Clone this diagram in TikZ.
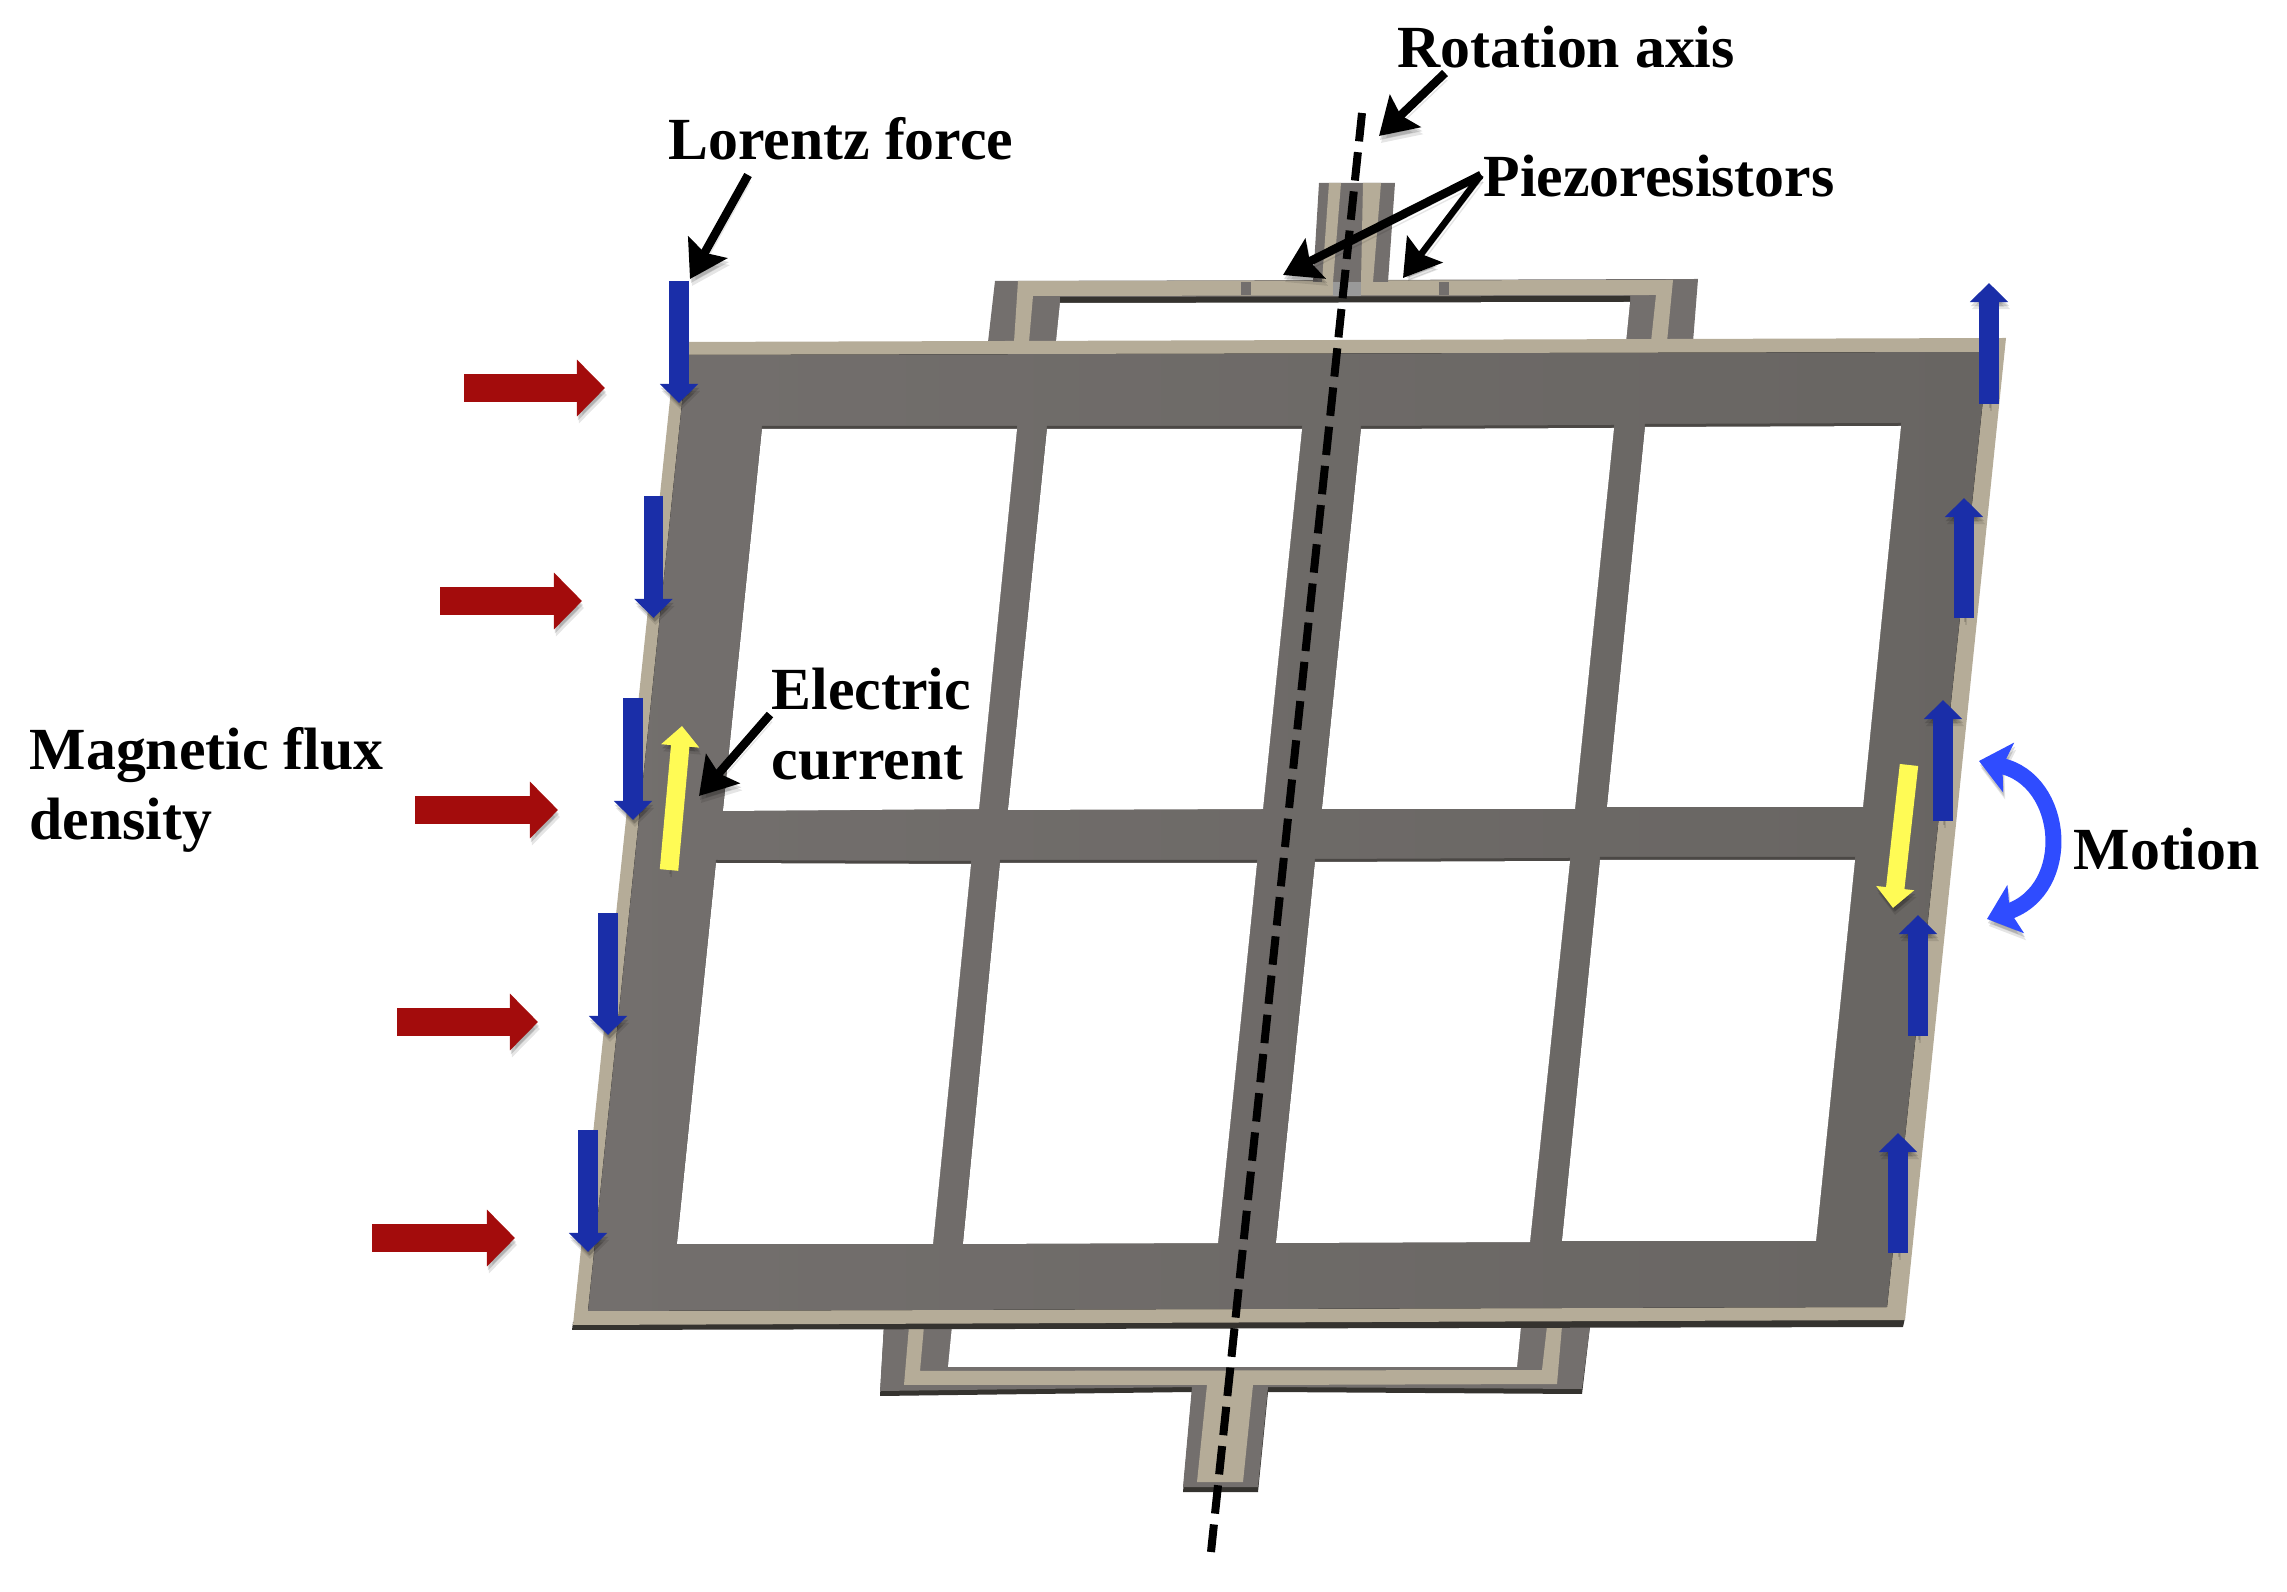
\documentclass[tikz,border=0pt]{standalone}
\usepackage{fontspec}
\setmainfont{Liberation Serif}
\usetikzlibrary{arrows.meta,calc}
\definecolor{platec}{HTML}{736F6D}
\definecolor{plated}{HTML}{686562}
\definecolor{tanc}{HTML}{B5AC98}
\definecolor{edgec}{HTML}{35332F}
\definecolor{fluxc}{HTML}{A30C0C}
\definecolor{forcec}{HTML}{1A2EA8}
\definecolor{curc}{HTML}{FFFB55}
\definecolor{motc}{HTML}{2F4CFF}

\begin{document}
\begin{tikzpicture}[
  x=.01cm, y=-.01cm,
  txt/.style={font=\bfseries\fontsize{17}{19.9}\selectfont, inner sep=0pt, text depth=0pt, align=left},
  shad/.style={preaction={draw=black, opacity=.1, transform canvas={xshift=.02cm, yshift=-.07cm}},
    preaction={draw=black, opacity=.14, transform canvas={xshift=.01cm, yshift=-.04cm}}},
  leader/.style={-{Stealth[length=.36cm, width=.44cm, inset=.06cm]}, line width=.085cm, shad},
  flux/.style={-{Triangle[length=.28cm, width=.55cm]}, line width=.275cm, draw=fluxc, shad},
  force/.style={-{Triangle[length=.19cm, width=.37cm]}, line width=.195cm, draw=forcec, shad},
  cur/.style={-{Triangle[length=.2cm, width=.37cm]}, line width=.185cm, draw=curc, shad},
  axisline/.style={line width=.08cm, dash pattern=on .285cm off .109cm}
]
\path[use as bounding box] (0,0) rectangle (2287,1592);

% top flexure
\fill[platec] (988,342) -- (995,281) -- (1698,279) -- (1693,342) -- cycle;
\fill[edgec] (1060,297) -- (1630,296) -- (1630,304) -- (1060,304) -- cycle;
\fill[white] (1056,342) -- (1060,303) -- (1630,302) -- (1626,342) -- cycle;
\fill[tanc] (1014,342) -- (1018,281) -- (1673,280) -- (1667,342) -- (1651,342) -- (1656,295)
  -- (1033,296) -- (1029,342) -- cycle;
\foreach \x in {1241,1439}
  \fill[platec] (\x,282) rectangle ++(10,13);
\fill[platec] (1319,183) -- (1395,183) -- (1388,282) -- (1313,282) -- cycle;
\fill[tanc] (1329,183) -- (1341,183) -- (1333,282) -- (1322,282) -- cycle;
\fill[tanc] (1363,183) -- (1381,183) -- (1373,282) -- (1361,282) -- cycle;
\fill[black!40] (1333,282) rectangle (1361,296);

% bottom flexure
\fill[edgec] (880,1396) -- (884,1326) -- (1590,1326) -- (1582,1394) -- (1268,1392) -- (1258,1492)
  -- (1183,1492) -- (1192,1392) -- cycle;
\fill[platec] (880,1391) -- (884,1326) -- (1590,1326) -- (1582,1389) -- (1268,1387) -- (1258,1487)
  -- (1183,1487) -- (1192,1387) -- cycle;
\fill[white] (952,1326) -- (1521,1326) -- (1517,1367) -- (948,1367) -- cycle;
\fill[tanc] (909,1326) -- (904,1385) -- (1207,1385) -- (1197,1482) -- (1243,1482) -- (1253,1385)
  -- (1557,1384) -- (1562,1326) -- (1547,1326) -- (1542,1370) -- (920,1371) -- (924,1326) -- cycle;

% plate
\fill[edgec] (573,1322) -- (1905,1318) -- (1903,1327) -- (572,1330) -- cycle;
\fill[tanc] (676,342) -- (2006,338) -- (1905,1320) -- (573,1325) -- cycle;
\fill[left color=platec, right color=plated] (687,355) -- (1988,352) -- (1887,1307) -- (588,1311) -- cycle;

\foreach \ax/\ay/\bx/\by/\cx/\cy/\dx/\dy in {
  762/429/1017/429/979/809/723/811,
  1047/429/1302/429/1263/809/1008/810,
  1361/429/1614/428/1575/809/1322/809,
  1645/427/1901/426/1863/807/1607/807,
  716/863/971/864/933/1244/677/1244,
  1000/863/1257/863/1218/1243/963/1244,
  1315/862/1570/861/1530/1242/1276/1243,
  1600/860/1855/860/1816/1241/1562/1241} {
  \fill[edgec!65!platec, yshift=.03cm] (\ax,\ay) -- (\bx,\by) -- (\cx,\cy) -- (\dx,\dy) -- cycle;
  \fill[white] (\ax,\ay) -- (\bx,\by) -- (\cx,\cy) -- (\dx,\dy) -- cycle;
}

\coordinate (axistop) at (1362,113);
\coordinate (axisbot) at (1211,1552);
\draw[axisline] (axistop) -- (axisbot);

% forces and flux
\foreach \i/\xa/\xb/\y in {1/464/605/388, 2/440/582/601, 3/415/558/810, 4/397/538/1022, 5/372/515/1238} {
  \coordinate (fa\i) at (\xa,\y);
  \coordinate (fb\i) at (\xb,\y);
  \draw[flux] (fa\i) -- (fb\i);
}
\foreach \i/\x/\ya/\yb in {1/679/281/403, 2/653.5/496/618, 3/633/698/820, 4/608/913/1035, 5/588/1130/1252,
  6/1989/404/283, 7/1964/618/498, 8/1943/821/700, 9/1918/1036/915, 10/1898/1253/1133} {
  \coordinate (la\i) at (\x,\ya);
  \coordinate (lb\i) at (\x,\yb);
  \draw[force] (la\i) -- (lb\i);
}

\coordinate (cura) at (669,870);
\coordinate (curb) at (682,726);
\coordinate (curc) at (1909,765);
\coordinate (curd) at (1893,908);
\draw[cur] (cura) -- (curb);
\draw[cur] (curc) -- (curd);

\coordinate (mota) at (1979,761);
\coordinate (motb) at (1987,919);
\draw[{Stealth[length=.3cm, width=.5cm, inset=.06cm]}-{Stealth[length=.3cm, width=.5cm, inset=.06cm]},
  line width=.16cm, draw=motc, shad] (mota) .. controls (2065,780) and (2074,889) .. (motb);

% labels
\node[txt, anchor=south west] (axis) at (1397,68) {Rotation axis};
\node[txt, anchor=south west] (lorentz) at (668,160) {Lorentz force};
\node[txt, anchor=south west] (piezo) at (1483,197) {Piezoresistors};
\node[txt, anchor=south west] (current) at (771,780) {Electric\\current};
\node[txt, anchor=south west] (fluxlab) at (29,840) {Magnetic flux\\density};
\node[txt, anchor=south west] (motion) at (2073,870) {Motion};

\coordinate (axistip) at (1379,136);
\coordinate (lorentztip) at (690,279);
\coordinate (piezotipa) at (1283,275);
\coordinate (piezotipb) at (1403,278);
\coordinate (currenttip) at (699,796);
\draw[leader] ([xshift=.48cm, yshift=-.05cm]axis.south west) -- (axistip);
\draw[leader] ([xshift=.8cm, yshift=-.15cm]lorentz.south west) -- (lorentztip);
\draw[leader] ([xshift=-.02cm, yshift=.22cm]piezo.south west) -- (piezotipa);
\draw[leader, line width=.065cm] ([xshift=-.02cm, yshift=.22cm]piezo.south west) -- (piezotipb);
\draw[leader] ([xshift=-.01cm, yshift=.09cm]current.west) -- (currenttip);
\end{tikzpicture}
\end{document}
